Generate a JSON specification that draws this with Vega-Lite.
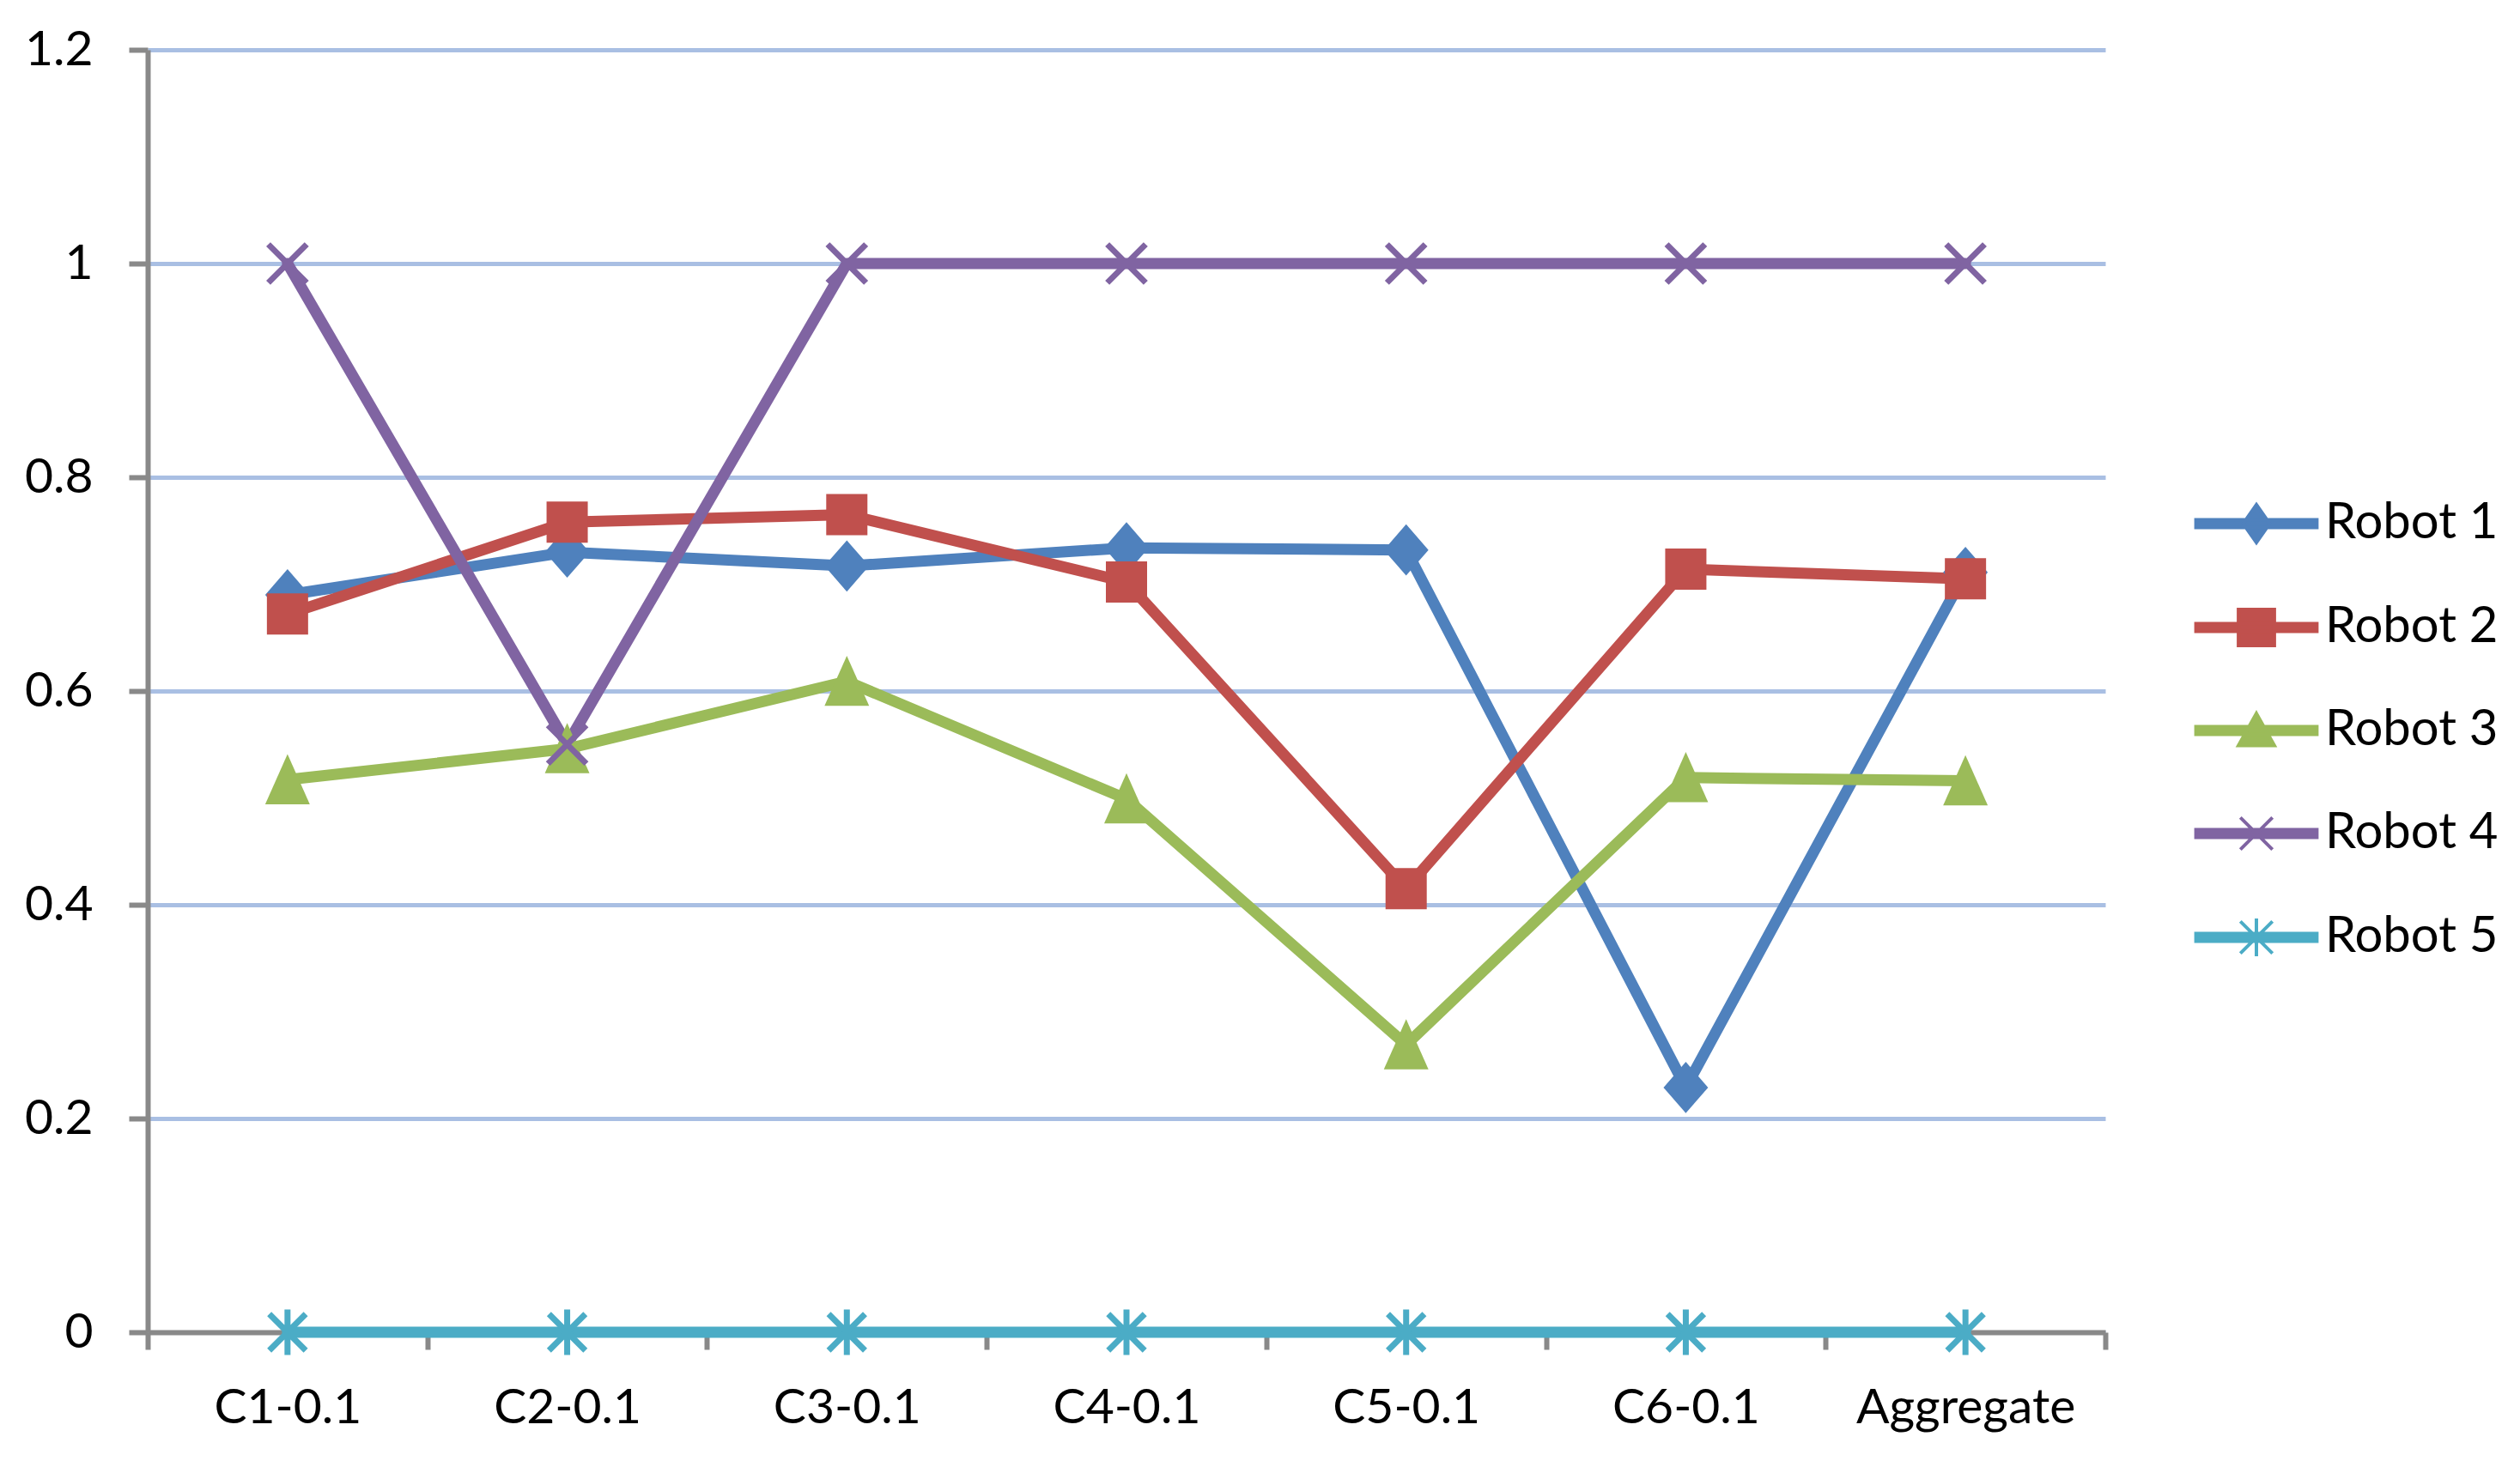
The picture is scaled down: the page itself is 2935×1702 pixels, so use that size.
{
  "$schema": "https://vega.github.io/schema/vega-lite/v6.json",
  "autosize": {"type": "none"},
  "padding": {"left": 172, "top": 58, "right": 483, "bottom": 150},
  "width": 2280,
  "height": 1494,
  "background": "white",
  "config": {
    "view": {"stroke": null},
    "font": "Lato",
    "axis": {"labelFont": "Lato", "labelColor": "#000000", "labelFontSize": 57, "title": null, "labelLimit": 600}
  },
  "data": {
    "values": [
      {"category": "C1-0.1", "robot": "Robot 1", "value": 0.69},
      {"category": "C2-0.1", "robot": "Robot 1", "value": 0.73},
      {"category": "C3-0.1", "robot": "Robot 1", "value": 0.717},
      {"category": "C4-0.1", "robot": "Robot 1", "value": 0.734},
      {"category": "C5-0.1", "robot": "Robot 1", "value": 0.732},
      {"category": "C6-0.1", "robot": "Robot 1", "value": 0.229},
      {"category": "Aggregate", "robot": "Robot 1", "value": 0.711},
      {"category": "C1-0.1", "robot": "Robot 2", "value": 0.672},
      {"category": "C2-0.1", "robot": "Robot 2", "value": 0.758},
      {"category": "C3-0.1", "robot": "Robot 2", "value": 0.765},
      {"category": "C4-0.1", "robot": "Robot 2", "value": 0.702},
      {"category": "C5-0.1", "robot": "Robot 2", "value": 0.415},
      {"category": "C6-0.1", "robot": "Robot 2", "value": 0.714},
      {"category": "Aggregate", "robot": "Robot 2", "value": 0.705},
      {"category": "C1-0.1", "robot": "Robot 3", "value": 0.517},
      {"category": "C2-0.1", "robot": "Robot 3", "value": 0.546},
      {"category": "C3-0.1", "robot": "Robot 3", "value": 0.609},
      {"category": "C4-0.1", "robot": "Robot 3", "value": 0.499},
      {"category": "C5-0.1", "robot": "Robot 3", "value": 0.269},
      {"category": "C6-0.1", "robot": "Robot 3", "value": 0.519},
      {"category": "Aggregate", "robot": "Robot 3", "value": 0.516},
      {"category": "C1-0.1", "robot": "Robot 4", "value": 1},
      {"category": "C2-0.1", "robot": "Robot 4", "value": 0.55},
      {"category": "C3-0.1", "robot": "Robot 4", "value": 1},
      {"category": "C4-0.1", "robot": "Robot 4", "value": 1},
      {"category": "C5-0.1", "robot": "Robot 4", "value": 1},
      {"category": "C6-0.1", "robot": "Robot 4", "value": 1},
      {"category": "Aggregate", "robot": "Robot 4", "value": 1},
      {"category": "C1-0.1", "robot": "Robot 5", "value": 0},
      {"category": "C2-0.1", "robot": "Robot 5", "value": 0},
      {"category": "C3-0.1", "robot": "Robot 5", "value": 0},
      {"category": "C4-0.1", "robot": "Robot 5", "value": 0},
      {"category": "C5-0.1", "robot": "Robot 5", "value": 0},
      {"category": "C6-0.1", "robot": "Robot 5", "value": 0},
      {"category": "Aggregate", "robot": "Robot 5", "value": 0}
    ]
  },
  "encoding": {
    "x": {
      "field": "category",
      "type": "nominal",
      "sort": ["C1-0.1", "C2-0.1", "C3-0.1", "C4-0.1", "C5-0.1", "C6-0.1", "Aggregate"],
      "scale": {"type": "band", "paddingInner": 0, "paddingOuter": 0},
      "axis": {
        "labelAngle": 0,
        "tickBand": "extent",
        "tickSize": 20,
        "tickWidth": 6,
        "tickColor": "#898989",
        "domainColor": "#898989",
        "domainWidth": 6,
        "labelPadding": 40,
        "grid": false
      }
    },
    "y": {
      "field": "value",
      "type": "quantitative",
      "scale": {"domain": [0, 1.2], "nice": false, "zero": true},
      "axis": {
        "values": [0, 0.2, 0.4, 0.6, 0.8, 1, 1.2],
        "format": "~g",
        "tickSize": 22,
        "tickWidth": 6,
        "tickColor": "#898989",
        "domainColor": "#898989",
        "domainWidth": 6,
        "labelPadding": 42,
        "grid": true,
        "gridColor": "#A9BFE3",
        "gridWidth": 5
      }
    }
  },
  "layer": [
    {
      "transform": [{"filter": "false"}],
      "mark": {"type": "point", "filled": true, "opacity": 1},
      "encoding": {
        "color": {
          "field": "robot",
          "type": "nominal",
          "scale": {
            "domain": ["Robot 1", "Robot 2", "Robot 3", "Robot 4", "Robot 5"],
            "range": ["#4F81BD", "#C0504D", "#9BBB59", "#8064A2", "#4BACC6"]
          },
          "legend": {
            "title": null,
            "orient": "none",
            "direction": "vertical",
            "legendX": 2427,
            "legendY": 523,
            "padding": 0,
            "symbolSize": 1936,
            "labelFont": "Lato",
            "labelFontSize": 58,
            "labelColor": "#000000",
            "labelOffset": 51,
            "labelLimit": 600,
            "rowPadding": 62,
            "symbolStrokeWidth": 4,
            "symbolOpacity": 1,
            "encode": {
              "symbols": {
                "update": {
                  "opacity": {"value": 1},
                  "fillOpacity": {"value": 1},
                  "strokeOpacity": {"value": 1},
                  "fill": {"scale": "color", "field": "value"},
                  "stroke": {"scale": "color", "field": "value"},
                  "strokeWidth": {"value": 4}
                }
              }
            }
          }
        },
        "shape": {
          "field": "robot",
          "type": "nominal",
          "scale": {
            "domain": ["Robot 1", "Robot 2", "Robot 3", "Robot 4", "Robot 5"],
            "range": [
              "M-3.2,-0.2L3.2,-0.2L3.2,0.2L-3.2,0.2ZM0,-1L0.7,0L0,1L-0.7,0Z",
              "M-3.2,-0.2L3.2,-0.2L3.2,0.2L-3.2,0.2ZM-0.95,-0.95L0.95,-0.95L0.95,0.95L-0.95,0.95Z",
              "M-3.2,-0.2L3.2,-0.2L3.2,0.2L-3.2,0.2ZM0,-0.9L0.95,0.8L-0.95,0.8Z",
              "M-3.2,-0.2L3.2,-0.2L3.2,0.2L-3.2,0.2ZM-0.85,-0.85L0.85,0.85M-0.85,0.85L0.85,-0.85",
              "M-3.2,-0.2L3.2,-0.2L3.2,0.2L-3.2,0.2ZM-0.85,-0.85L0.85,0.85M-0.85,0.85L0.85,-0.85M0,-1L0,1"
            ]
          },
          "legend": {
            "title": null,
            "orient": "none",
            "direction": "vertical",
            "legendX": 2427,
            "legendY": 523,
            "padding": 0,
            "symbolSize": 1936,
            "labelFont": "Lato",
            "labelFontSize": 58,
            "labelColor": "#000000",
            "labelOffset": 51,
            "labelLimit": 600,
            "rowPadding": 62,
            "symbolStrokeWidth": 4,
            "symbolOpacity": 1,
            "encode": {
              "symbols": {
                "update": {
                  "opacity": {"value": 1},
                  "fillOpacity": {"value": 1},
                  "strokeOpacity": {"value": 1},
                  "fill": {"scale": "color", "field": "value"},
                  "stroke": {"scale": "color", "field": "value"},
                  "strokeWidth": {"value": 4}
                }
              }
            }
          }
        }
      }
    },
    {
      "mark": {"type": "line", "strokeWidth": 13, "strokeJoin": "round", "strokeCap": "round"},
      "encoding": {"color": {"field": "robot", "type": "nominal"}}
    },
    {
      "transform": [{"filter": "datum.robot === 'Robot 1'"}],
      "mark": {"type": "point", "filled": true, "opacity": 1, "shape": "M0,-1.15L1,0L0,1.15L-1,0Z", "size": 2700},
      "encoding": {"color": {"field": "robot", "type": "nominal"}}
    },
    {
      "transform": [{"filter": "datum.robot === 'Robot 2'"}],
      "mark": {"type": "point", "filled": true, "opacity": 1, "shape": "square", "size": 2304},
      "encoding": {"color": {"field": "robot", "type": "nominal"}}
    },
    {
      "transform": [{"filter": "datum.robot === 'Robot 3'"}],
      "mark": {"type": "point", "filled": true, "opacity": 1, "shape": "M0,-1.15L1,1.1L-1,1.1Z", "size": 2700},
      "encoding": {"color": {"field": "robot", "type": "nominal"}}
    },
    {
      "transform": [{"filter": "datum.robot === 'Robot 4'"}],
      "mark": {"type": "point", "filled": false, "opacity": 1, "shape": "M-1,-1L1,1M-1,1L1,-1", "size": 2000, "strokeWidth": 7},
      "encoding": {"color": {"field": "robot", "type": "nominal"}}
    },
    {
      "transform": [{"filter": "datum.robot === 'Robot 5'"}],
      "mark": {"type": "point", "filled": false, "opacity": 1, "shape": "M-1,-1L1,1M-1,1L1,-1M0,-1.25L0,1.25", "size": 1800, "strokeWidth": 7},
      "encoding": {"color": {"field": "robot", "type": "nominal"}}
    }
  ]
}
